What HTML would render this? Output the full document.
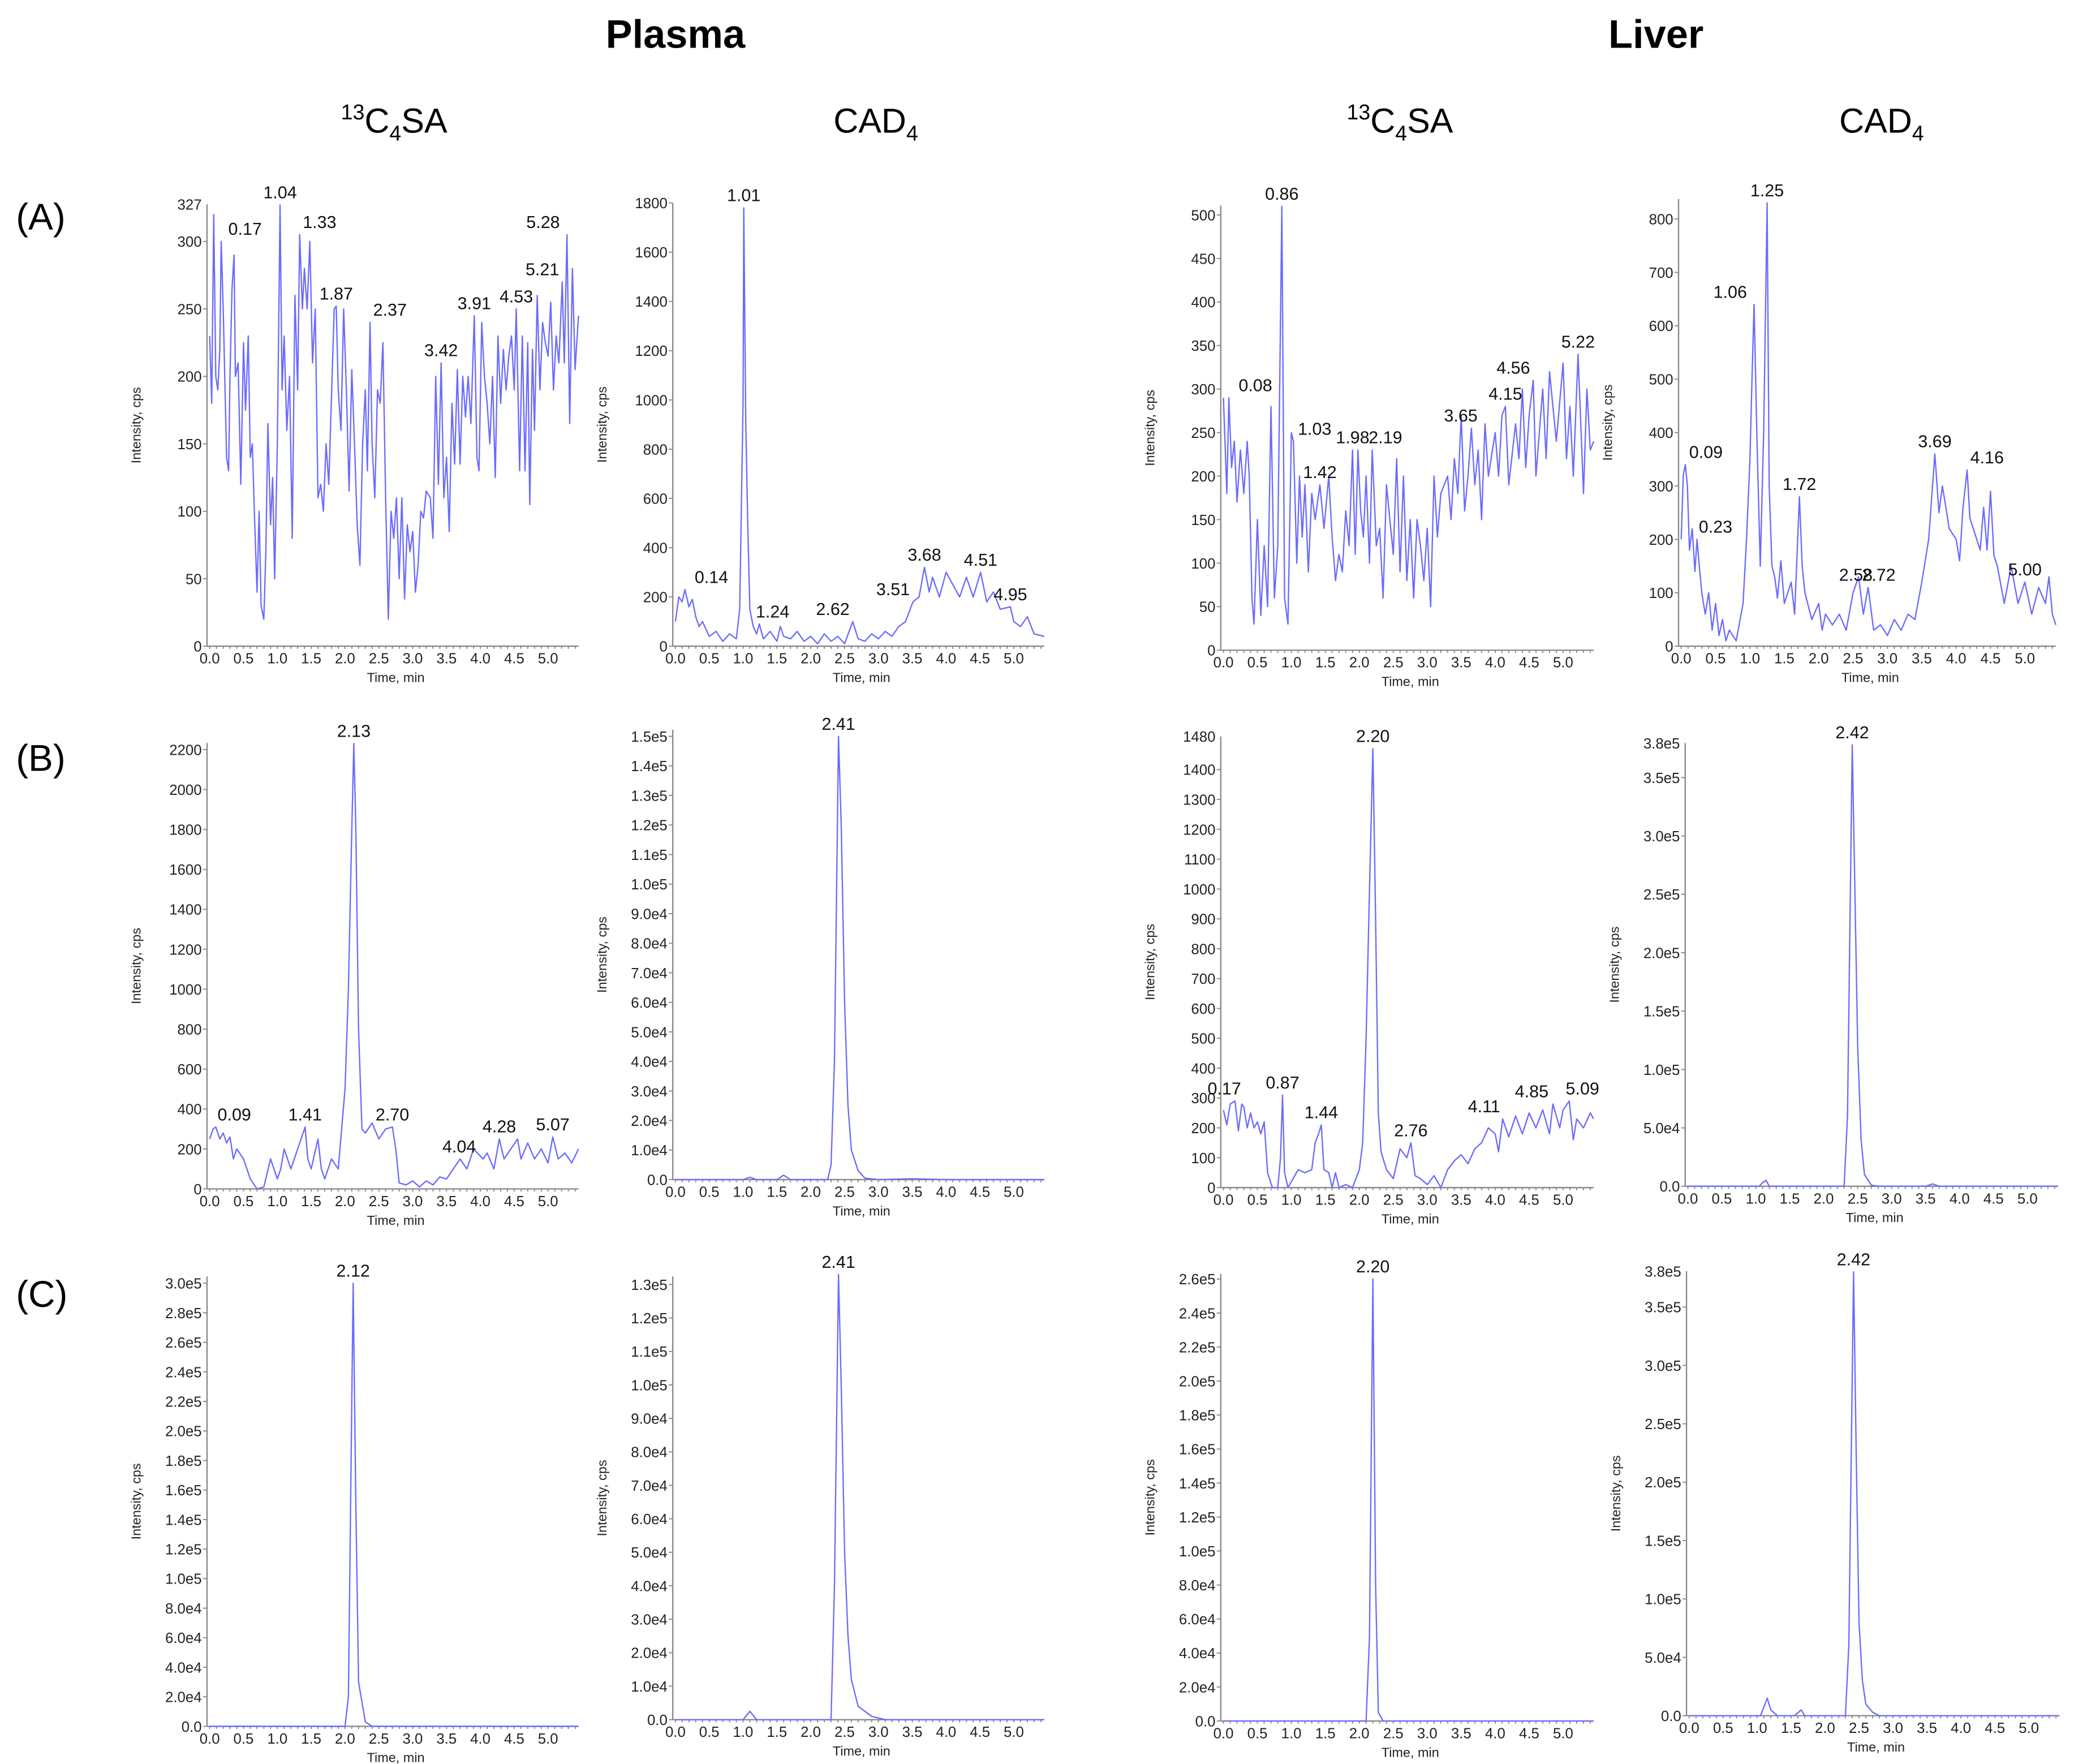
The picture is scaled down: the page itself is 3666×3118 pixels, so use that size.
<!DOCTYPE html>
<html><head><meta charset="utf-8"><style>
html,body{margin:0;padding:0;background:#fff}
svg{display:block}
text{font-family:"Liberation Sans",Arial,sans-serif}
</style></head><body>
<svg id="fig" xmlns="http://www.w3.org/2000/svg" width="3666" height="3118" viewBox="0 0 1563 1329.4">
<rect width="1563" height="1329.4" fill="#fff"/>
<text x="509" y="36" font-size="30" font-weight="bold" text-anchor="middle">Plasma</text>
<text x="1248" y="36" font-size="30" font-weight="bold" text-anchor="middle">Liver</text>
<text x="297" y="100" font-size="26" text-anchor="middle"><tspan font-size="16" dy="-10">13</tspan><tspan dy="10">C</tspan><tspan font-size="16" dy="6">4</tspan><tspan dy="-6">SA</tspan></text>
<text x="660" y="100" font-size="26" text-anchor="middle">CAD<tspan font-size="16" dy="6">4</tspan></text>
<text x="1055" y="100" font-size="26" text-anchor="middle"><tspan font-size="16" dy="-10">13</tspan><tspan dy="10">C</tspan><tspan font-size="16" dy="6">4</tspan><tspan dy="-6">SA</tspan></text>
<text x="1418" y="100" font-size="26" text-anchor="middle">CAD<tspan font-size="16" dy="6">4</tspan></text>
<text x="12" y="173" font-size="28">(A)</text>
<text x="12" y="581" font-size="28">(B)</text>
<text x="12" y="985" font-size="28">(C)</text>
</svg>
<script>
// ---- data arrays (time in min, intensity in cps) ----
const a1T=[0,0.03,0.06,0.09,0.12,0.15,0.17,0.2,0.25,0.28,0.3,0.33,0.36,0.38,0.42,0.46,0.5,0.53,0.57,0.6,0.63,0.66,0.7,0.73,0.76,0.8,0.83,0.86,0.9,0.93,0.96,1.0,1.04,1.07,1.1,1.14,1.18,1.22,1.26,1.3,1.33,1.37,1.4,1.44,1.48,1.52,1.56,1.6,1.64,1.68,1.72,1.76,1.8,1.84,1.87,1.9,1.94,1.98,2.02,2.06,2.1,2.14,2.18,2.22,2.26,2.3,2.33,2.37,2.4,2.44,2.48,2.52,2.56,2.6,2.64,2.68,2.72,2.76,2.8,2.84,2.88,2.92,2.96,3.0,3.04,3.08,3.12,3.16,3.2,3.26,3.3,3.34,3.38,3.42,3.46,3.5,3.54,3.58,3.62,3.66,3.7,3.74,3.78,3.82,3.86,3.91,3.95,3.98,4.02,4.06,4.1,4.14,4.18,4.22,4.26,4.3,4.34,4.38,4.42,4.46,4.5,4.53,4.58,4.62,4.66,4.7,4.73,4.77,4.8,4.84,4.88,4.92,4.96,5.0,5.04,5.08,5.12,5.16,5.21,5.24,5.28,5.32,5.36,5.4,5.45];
const a1V=[230,180,320,200,190,220,300,250,140,130,200,265,290,200,210,120,225,175,230,140,150,100,40,100,30,20,70,165,90,125,50,150,327,190,230,160,200,80,260,190,305,250,280,250,300,210,250,110,120,100,150,120,185,250,252,190,160,250,190,115,205,150,90,60,150,190,130,240,150,110,190,180,225,110,20,100,80,110,50,110,35,90,70,85,40,60,100,95,115,110,80,200,120,210,110,140,85,180,135,205,135,200,170,200,165,245,140,130,240,200,180,150,200,125,230,180,220,190,215,230,190,250,130,230,130,225,105,220,160,260,190,240,225,215,255,190,230,210,270,210,305,165,280,205,245];
const a2T=[0,0.05,0.1,0.14,0.2,0.25,0.3,0.35,0.4,0.5,0.6,0.7,0.8,0.9,0.95,1.0,1.01,1.04,1.07,1.1,1.15,1.2,1.24,1.3,1.4,1.5,1.55,1.6,1.7,1.8,1.9,2.0,2.1,2.2,2.3,2.4,2.5,2.62,2.7,2.8,2.9,3.0,3.1,3.2,3.3,3.4,3.51,3.6,3.68,3.75,3.8,3.9,4.0,4.1,4.2,4.3,4.4,4.51,4.6,4.7,4.8,4.95,5.0,5.1,5.2,5.3,5.45];
const a2V=[100,200,180,230,160,190,120,80,100,40,60,20,50,30,150,1000,1780,900,480,150,80,50,90,30,60,20,80,40,30,60,20,40,10,50,20,40,10,100,30,20,50,30,60,40,80,100,180,200,320,220,280,200,300,250,200,280,200,300,180,220,150,160,100,80,120,50,40];
const a3T=[0,0.05,0.08,0.12,0.16,0.2,0.25,0.3,0.35,0.38,0.42,0.45,0.5,0.55,0.6,0.65,0.7,0.75,0.8,0.86,0.9,0.95,1.0,1.03,1.08,1.12,1.16,1.2,1.25,1.3,1.35,1.42,1.48,1.55,1.6,1.65,1.7,1.75,1.8,1.85,1.9,1.94,1.98,2.02,2.06,2.1,2.15,2.19,2.25,2.3,2.35,2.4,2.45,2.5,2.55,2.6,2.65,2.7,2.75,2.8,2.85,2.9,2.95,3.0,3.05,3.1,3.15,3.2,3.3,3.35,3.4,3.45,3.5,3.55,3.6,3.65,3.7,3.75,3.8,3.85,3.9,4.0,4.05,4.1,4.15,4.2,4.3,4.35,4.4,4.45,4.5,4.56,4.6,4.7,4.75,4.8,4.9,5.0,5.05,5.1,5.15,5.22,5.3,5.35,5.4,5.45];
const a3V=[290,180,290,210,240,170,230,180,240,200,60,30,150,40,120,50,280,60,120,510,60,30,250,240,100,200,130,190,90,180,150,190,140,200,130,80,110,90,160,120,230,110,230,160,130,200,100,230,120,140,60,190,150,110,220,90,200,80,150,60,150,120,80,140,50,200,130,180,200,150,220,180,270,160,200,255,190,230,150,260,200,250,200,270,280,190,260,220,300,210,270,310,200,300,220,320,240,330,220,280,200,340,180,300,230,240];
const a4T=[0,0.03,0.06,0.09,0.12,0.16,0.2,0.23,0.27,0.3,0.35,0.4,0.45,0.5,0.55,0.6,0.65,0.7,0.8,0.9,0.95,1.0,1.03,1.06,1.1,1.15,1.2,1.25,1.28,1.32,1.36,1.4,1.45,1.5,1.55,1.6,1.65,1.72,1.76,1.8,1.9,2.0,2.05,2.1,2.2,2.3,2.4,2.5,2.58,2.65,2.72,2.8,2.9,3.0,3.1,3.2,3.3,3.4,3.5,3.6,3.69,3.75,3.8,3.9,4.0,4.05,4.1,4.16,4.2,4.3,4.35,4.4,4.45,4.5,4.55,4.6,4.7,4.8,4.9,5.0,5.1,5.2,5.3,5.35,5.4,5.45];
const a4V=[200,320,340,300,180,220,140,200,140,100,60,100,30,80,20,50,10,30,10,80,200,350,500,640,400,150,400,830,300,150,130,90,160,80,100,120,60,280,150,100,50,80,30,60,40,60,30,100,130,60,110,30,40,20,50,30,60,50,120,200,360,250,300,220,200,160,260,330,240,200,180,260,180,290,170,150,80,150,80,120,60,110,80,130,60,40];
const b1T=[0,0.05,0.09,0.15,0.2,0.25,0.3,0.35,0.4,0.5,0.6,0.7,0.8,0.9,1.0,1.05,1.1,1.2,1.3,1.41,1.45,1.5,1.6,1.65,1.7,1.8,1.9,1.95,2.0,2.05,2.1,2.13,2.16,2.2,2.25,2.3,2.4,2.5,2.6,2.7,2.75,2.8,2.9,3.0,3.1,3.2,3.3,3.4,3.5,3.6,3.7,3.8,3.9,4.04,4.1,4.2,4.28,4.35,4.45,4.55,4.6,4.7,4.8,4.9,5.0,5.07,5.15,5.25,5.35,5.45];
const b1V=[250,300,310,250,280,230,260,150,200,150,50,0,10,150,50,100,200,100,200,310,150,100,250,100,50,150,100,300,500,1000,1800,2230,1800,800,300,280,330,250,300,310,200,30,20,40,10,40,20,60,50,100,150,100,200,150,180,100,250,150,200,250,150,230,150,200,130,260,150,180,130,200];
const b2T=[0,1.0,1.1,1.2,1.5,1.6,1.7,2.25,2.3,2.35,2.41,2.45,2.5,2.55,2.6,2.7,2.8,3.0,3.5,4.0,5.45];
const b2V=[0,0,800,0,0,1500,0,0,5000,40000,150000,120000,60000,25000,10000,3000,500,0,300,0,0];
const b3T=[0,0.05,0.1,0.17,0.22,0.27,0.3,0.35,0.4,0.45,0.5,0.55,0.6,0.65,0.72,0.8,0.84,0.87,0.9,0.95,1.0,1.1,1.2,1.3,1.35,1.4,1.44,1.48,1.55,1.6,1.65,1.7,1.8,1.9,2.0,2.05,2.1,2.15,2.2,2.24,2.28,2.32,2.4,2.5,2.6,2.7,2.76,2.82,2.9,3.0,3.1,3.2,3.3,3.4,3.5,3.6,3.7,3.8,3.9,4.0,4.05,4.11,4.2,4.3,4.4,4.5,4.6,4.7,4.8,4.85,4.95,5.0,5.09,5.15,5.2,5.3,5.4,5.45];
const b3V=[260,210,280,290,190,280,270,200,250,200,220,180,220,50,0,0,100,310,50,0,20,60,50,60,150,180,210,60,50,0,50,0,10,0,60,150,500,1000,1470,900,250,120,60,30,130,100,150,40,30,10,40,0,60,90,110,80,130,150,200,180,120,230,170,240,180,250,200,260,180,280,200,260,290,160,230,200,250,230];
const b4T=[0,1.05,1.1,1.15,1.2,2.3,2.35,2.42,2.46,2.5,2.55,2.6,2.7,2.8,3.5,3.6,3.7,5.45];
const b4V=[0,0,3000,5000,0,0,60000,378000,250000,120000,40000,10000,1000,0,0,2000,0,0];
const c1T=[0,2.0,2.05,2.12,2.16,2.2,2.3,2.4,5.45];
const c1V=[0,0,20000,300000,150000,30000,3000,0,0];
const c2T=[0,1.0,1.1,1.2,2.3,2.35,2.41,2.45,2.5,2.55,2.6,2.7,2.9,3.1,5.45];
const c2V=[0,0,2500,0,0,40000,133000,100000,50000,25000,12000,4000,1000,0,0];
const c3T=[0,2.1,2.15,2.2,2.24,2.28,2.35,5.45];
const c3V=[0,0,50000,260000,80000,5000,0,0];
const c4T=[0,1.05,1.15,1.2,1.3,1.55,1.65,1.7,2.3,2.35,2.42,2.46,2.5,2.55,2.6,2.7,2.8,5.45];
const c4V=[0,0,15000,5000,0,0,5000,0,0,60000,380000,220000,80000,30000,10000,3000,0,0];
// y tick values
const ticksA1=[0,50,100,150,200,250,300];
const ticksA2=[0,200,400,600,800,1000,1200,1400,1600,1800];
const ticksA3=[0,50,100,150,200,250,300,350,400,450,500];
const ticksA4=[0,100,200,300,400,500,600,700,800];
const ticksB1=[0,200,400,600,800,1000,1200,1400,1600,1800,2000,2200];
const ticksB2=[0,1e4,2e4,3e4,4e4,5e4,6e4,7e4,8e4,9e4,1e5,1.1e5,1.2e5,1.3e5,1.4e5,1.5e5];
const ticksB3=[0,100,200,300,400,500,600,700,800,900,1000,1100,1200,1300,1400];
const ticksB4=[0,5e4,1e5,1.5e5,2e5,2.5e5,3e5,3.5e5];
const ticksC1=[0,2e4,4e4,6e4,8e4,1e5,1.2e5,1.4e5,1.6e5,1.8e5,2e5,2.2e5,2.4e5,2.6e5,2.8e5,3e5];
const ticksC2=[0,1e4,2e4,3e4,4e4,5e4,6e4,7e4,8e4,9e4,1e5,1.1e5,1.2e5,1.3e5];
const ticksC3=[0,2e4,4e4,6e4,8e4,1e5,1.2e5,1.4e5,1.6e5,1.8e5,2e5,2.2e5,2.4e5,2.6e5];
const ticksC4=[0,5e4,1e5,1.5e5,2e5,2.5e5,3e5,3.5e5];
const xTicks=[0,0.5,1.0,1.5,2.0,2.5,3.0,3.5,4.0,4.5,5.0];
// peak labels: time, intensity, text, optional label dx, optional fixed label intensity
const pkA1=[[0.17,300,"0.17",18],[1.04,327,"1.04"],[1.33,305,"1.33",15],[1.87,252,"1.87"],[2.37,240,"2.37",15],[3.42,210,"3.42"],[3.91,245,"3.91"],[4.53,250,"4.53"],[5.21,270,"5.21",-15],[5.28,305,"5.28",-18]];
const pkA2=[[0.14,230,"0.14",20],[1.01,1780,"1.01"],[1.24,90,"1.24",10],[2.62,100,"2.62",-15],[3.51,180,"3.51",-15],[3.68,320,"3.68"],[4.51,300,"4.51"],[4.95,160,"4.95"]];
const pkA3=[[0.08,290,"0.08",20],[0.86,510,"0.86"],[1.03,240,"1.03",16],[1.42,190,"1.42"],[1.98,230,"1.98",-4],[2.19,230,"2.19",10],[3.65,255,"3.65",-8],[4.15,280,"4.15"],[4.56,310,"4.56",-15],[5.22,340,"5.22"]];
const pkA4=[[0.09,340,"0.09",14],[0.23,200,"0.23",14],[1.06,640,"1.06",-18],[1.25,830,"1.25"],[1.72,280,"1.72"],[2.58,130,"2.58",-2,110],[2.72,110,"2.72",8],[3.69,360,"3.69"],[4.16,330,"4.16",15],[5.0,120,"5.00"]];
const pkB1=[[0.09,310,"0.09",14],[1.41,310,"1.41"],[2.13,2230,"2.13"],[2.70,310,"2.70"],[4.04,150,"4.04",-18],[4.28,250,"4.28"],[5.07,260,"5.07"]];
const pkB2=[[2.41,150000,"2.41"]];
const pkB3=[[0.17,290,"0.17",-8],[0.87,310,"0.87"],[1.44,210,"1.44"],[2.20,1470,"2.20"],[2.76,150,"2.76"],[4.11,230,"4.11",-14],[4.85,280,"4.85",-16],[5.09,290,"5.09",10]];
const pkB4=[[2.42,378000,"2.42"]];
const pkC1=[[2.12,300000,"2.12"]];
const pkC2=[[2.41,133000,"2.41"]];
const pkC3=[[2.20,260000,"2.20"]];
const pkC4=[[2.42,380000,"2.42"]];

const NS="http://www.w3.org/2000/svg";
const fig=document.getElementById('fig');
function mk(tag,attrs,parent){const e=document.createElementNS(NS,tag);for(const k in attrs)e.setAttribute(k,attrs[k]);(parent||fig).appendChild(e);return e;}
function fmtSci(v){if(v===0)return "0.0";const ex=Math.floor(Math.log10(v)+1e-9);return (v/Math.pow(10,ex)).toFixed(1)+"e"+ex;}

function panel(id,o){
  const g=mk('g',{});
  
  
  const xs=t=>o.x0+t*o.ppm;
  const ys=v=>o.yb-v*o.k;
  const ax=o.x0-2;
  const xEnd=xs(5.45);
  const yax=mk('line',{x1:ax,y1:o.yt,x2:ax,y2:o.yb,stroke:'#888','stroke-width':1},g);
  
  
  const xax=mk('line',{x1:ax,y1:o.yb,x2:xEnd,y2:o.yb,stroke:'#888','stroke-width':1},g);
  
  
  for(let t=0;t<=5.45;t+=0.1){mk('line',{x1:xs(t),y1:o.yb,x2:xs(t),y2:o.yb+2,stroke:'#888','stroke-width':0.8},g);}
  xTicks.forEach(t=>{
    const tx=mk('text',{x:xs(t),y:o.yb+13,'font-size':11,'text-anchor':'middle',fill:'#222'},g);
    tx.textContent=t.toFixed(1);
    
    
  });
  o.ticks.forEach(v=>{
    const y=ys(v);
    mk('line',{x1:ax-3,y1:y,x2:ax,y2:y,stroke:'#888','stroke-width':0.8},g);
    const tx=mk('text',{x:ax-4,y:y+4,'font-size':11,'text-anchor':'end',fill:'#222'},g);
    tx.textContent=o.sci?fmtSci(v):String(v);
    
    
  });
  if(o.top){
    const tx=mk('text',{x:ax-4,y:o.yt+4,'font-size':11,'text-anchor':'end',fill:'#222'},g);
    tx.textContent=o.top;
    
    
  }
  const xt=mk('text',{x:xs(2.75),y:o.yb+27,'font-size':10,'text-anchor':'middle',fill:'#222'},g);
  xt.textContent='Time, min';
  
  
  const ym=(o.yt+o.yb)/2;
  const yt=mk('text',{x:o.x0-52,y:ym,'font-size':10,'text-anchor':'middle',fill:'#222',transform:`rotate(-90 ${o.x0-52} ${ym})`},g);
  yt.textContent='Intensity, cps';
  
  
  const pts=o.T.map((t,i)=>xs(t).toFixed(2)+','+ys(o.V[i]).toFixed(2)).join(' ');
  const pl=mk('polyline',{points:pts,fill:'none',stroke:'#6b6bff','stroke-width':1,'stroke-linejoin':'round'},g);
  
  
  o.pk.forEach(p=>{
    const dx=p[3]||0;
    const lv=(p[4]!==undefined)?p[4]:p[1];
    const tx=mk('text',{x:xs(p[0])+dx,y:ys(lv)-5,'font-size':13,'text-anchor':'middle',fill:'#111'},g);
    tx.textContent=p[2];
    
    
  });
}
panel('a1-plasma-13c4sa',{x0:158,ppm:51,yb:487,yt:154,k:1.0167,ticks:ticksA1,top:'327',T:a1T,V:a1V,pk:pkA1});
panel('a2-plasma-cad4',{x0:509,ppm:51,yb:487,yt:153,k:0.1856,ticks:ticksA2,T:a2T,V:a2V,pk:pkA2});
panel('a3-liver-13c4sa',{x0:922,ppm:51.2,yb:490,yt:155,k:0.656,ticks:ticksA3,T:a3T,V:a3V,pk:pkA3});
panel('a4-liver-cad4',{x0:1267,ppm:51.8,yb:487,yt:150,k:0.4025,ticks:ticksA4,T:a4T,V:a4V,pk:pkA4});
panel('b1-plasma-13c4sa',{x0:158,ppm:51,yb:896,yt:560,k:0.1505,ticks:ticksB1,T:b1T,V:b1V,pk:pkB1});
panel('b2-plasma-cad4',{x0:509,ppm:51,yb:889,yt:550,k:0.002227,ticks:ticksB2,sci:true,T:b2T,V:b2V,pk:pkB2});
panel('b3-liver-13c4sa',{x0:922,ppm:51.2,yb:895,yt:555,k:0.225,ticks:ticksB3,top:'1480',T:b3T,V:b3V,pk:pkB3});
panel('b4-liver-cad4',{x0:1272,ppm:51.2,yb:894,yt:560,k:0.00088,ticks:ticksB4,sci:true,top:'3.8e5',T:b4T,V:b4V,pk:pkB4});
panel('c1-plasma-13c4sa',{x0:158,ppm:51,yb:1301,yt:962,k:0.001113,ticks:ticksC1,sci:true,T:c1T,V:c1V,pk:pkC1});
panel('c2-plasma-cad4',{x0:509,ppm:51,yb:1296,yt:962,k:0.002523,ticks:ticksC2,sci:true,T:c2T,V:c2V,pk:pkC2});
panel('c3-liver-13c4sa',{x0:922,ppm:51.2,yb:1297,yt:960,k:0.001281,ticks:ticksC3,sci:true,T:c3T,V:c3V,pk:pkC3});
panel('c4-liver-cad4',{x0:1273,ppm:51.2,yb:1293,yt:958,k:0.00088,ticks:ticksC4,sci:true,top:'3.8e5',T:c4T,V:c4V,pk:pkC4});
</script>
</body></html>
